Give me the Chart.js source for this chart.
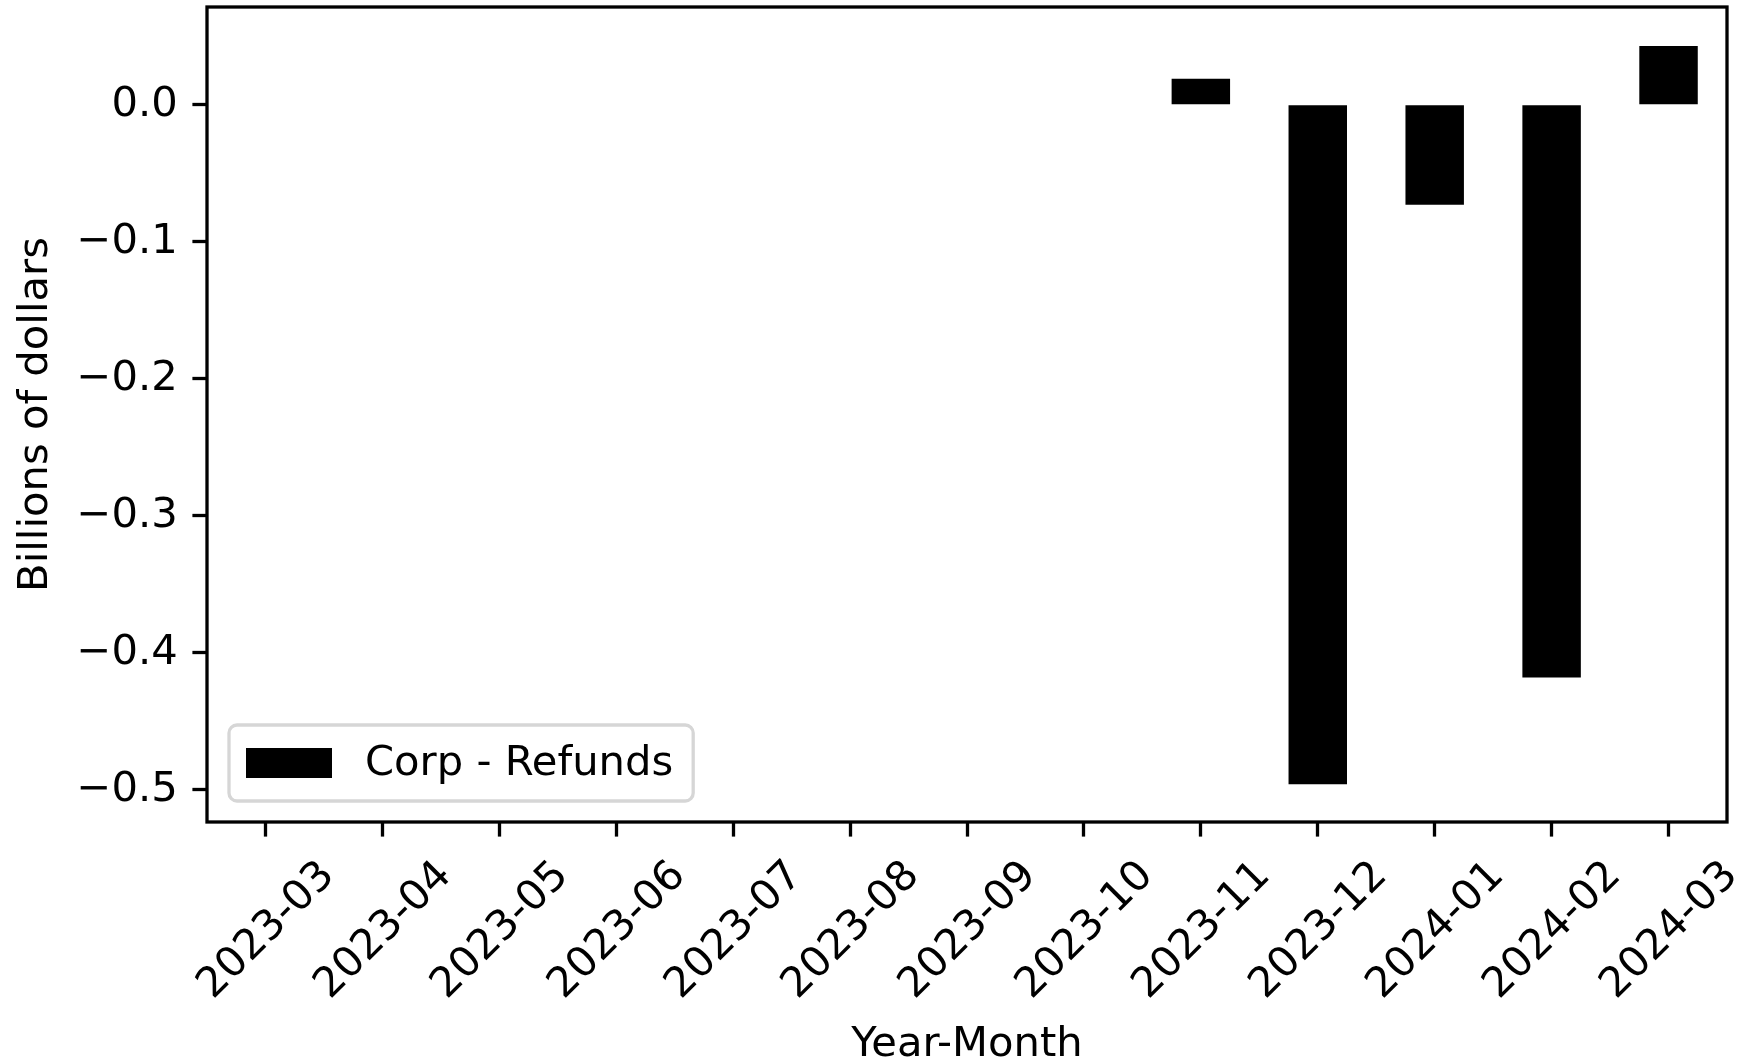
<!DOCTYPE html>
<html>
<head>
<meta charset="utf-8">
<script src="https://cdn.jsdelivr.net/npm/chart.js@4/dist/chart.umd.min.js"></script>
<style>
  body { margin: 0; background: #fff; }
  #wrap { width: 1745px; height: 1063px; }
</style>
</head>
<body>
<div id="wrap"><canvas id="refundsChart" width="1745" height="1063"></canvas></div>
<script>
// data
const months = ['2023-03', '2023-04', '2023-05', '2023-06', '2023-07', '2023-08', '2023-09',
                '2023-10', '2023-11', '2023-12', '2024-01', '2024-02', '2024-03'];
const corpRefunds = [0, 0, 0, 0, 0, 0, 0, 0, 0.019, -0.496, -0.073, -0.418, 0.043];
const yTicks = [-0.5, -0.4, -0.3, -0.2, -0.1, 0.0];
const seriesName = 'Corp - Refunds';

const FONT = 'DejaVu Sans';
const FS = 41.7;     // 10pt @ 300dpi
const LW = 3.3;      // 0.8pt line

// box round the plot area
const frame = {
    id: 'frame',
    afterDraw(chart) {
        const a = chart.chartArea, ctx = chart.ctx;
        ctx.save();
        ctx.strokeStyle = '#000';
        ctx.lineWidth = LW;
        ctx.strokeRect(a.left, a.top, a.right - a.left, a.bottom - a.top);
        ctx.restore();
    }
};

// matplotlib style legend, lower left inside the axes
const boxLegend = {
    id: 'boxLegend',
    afterDraw(chart) {
        const a = chart.chartArea, ctx = chart.ctx;
        const ds = chart.data.datasets[0];
        ctx.save();
        ctx.font = FS + 'px "' + FONT + '"';
        const tw = ctx.measureText(ds.label).width;
        const x = a.left + 22, w = 86 + 32 + tw + 38;
        const h = 76, y = a.bottom - 21 - h;
        ctx.beginPath();
        ctx.roundRect(x, y, w, h, 8);
        ctx.fillStyle = 'rgba(255,255,255,0.8)';
        ctx.fill();
        ctx.strokeStyle = '#d6d6d6';
        ctx.lineWidth = LW;
        ctx.stroke();
        ctx.fillStyle = ds.backgroundColor;
        ctx.fillRect(x + 17, y + 23, 86, 30);
        ctx.fillStyle = '#000';
        ctx.textBaseline = 'middle';
        ctx.fillText(ds.label, x + 17 + 86 + 33, y + h / 2 + 1);
        ctx.restore();
    }
};

const fmt = v => (Math.abs(v) < 1e-9 ? '0.0' : v.toFixed(1).replace('-', '\u2212'));

new Chart(document.getElementById('refundsChart'), {
    type: 'bar',
    data: {
        labels: months,
        datasets: [{
            label: seriesName,
            data: corpRefunds,
            backgroundColor: '#000000',
            borderWidth: 0,
            categoryPercentage: 1.0,
            barPercentage: 0.5
        }]
    },
    options: {
        responsive: false,
        animation: false,
        layout: { padding: { left: 0, right: 18, top: 7, bottom: 0 } },
        plugins: {
            legend: { display: false },
            tooltip: { enabled: false }
        },
        scales: {
            x: {
                offset: true,
                grid: {
                    offset: false,
                    drawOnChartArea: false,
                    drawTicks: true,
                    tickLength: 14.6,
                    tickWidth: LW,
                    tickColor: '#000'
                },
                border: { display: false },
                ticks: {
                    color: '#000',
                    font: { family: FONT, size: FS },
                    minRotation: 45,
                    maxRotation: 45,
                    autoSkip: false,
                    padding: 15,
                    labelOffset: 63
                },
                title: {
                    display: true,
                    text: 'Year-Month',
                    color: '#000',
                    font: { family: FONT, size: FS },
                    padding: { top: 0, bottom: -7 }
                },
                afterFit(scale) {
                    scale.height = 1063 - 822;
                    scale.paddingLeft = 0;
                    scale.paddingRight = 0;
                }
            },
            y: {
                min: -0.5235,
                max: 0.0714,
                afterBuildTicks(scale) { scale.ticks = yTicks.map(v => ({ value: v })); },
                grid: {
                    drawOnChartArea: false,
                    drawTicks: true,
                    tickLength: 14.6,
                    tickWidth: LW,
                    tickColor: '#000'
                },
                border: { display: false },
                ticks: {
                    color: '#000',
                    font: { family: FONT, size: FS },
                    padding: 14.6,
                    callback: v => fmt(v)
                },
                title: {
                    display: true,
                    text: 'Billions of dollars',
                    color: '#000',
                    font: { family: FONT, size: FS },
                    padding: { top: 11, bottom: 0 }
                },
                afterFit(scale) {
                    scale.width = 207;
                    scale.paddingTop = 0;
                    scale.paddingBottom = 0;
                }
            }
        }
    },
    plugins: [frame, boxLegend]
});
</script>
</body>
</html>
